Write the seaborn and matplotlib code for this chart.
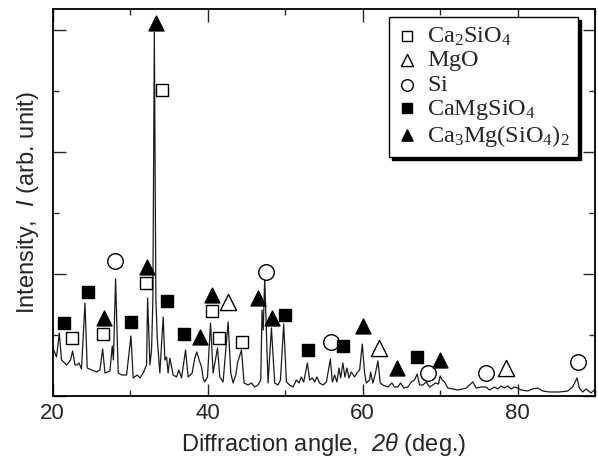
import matplotlib
matplotlib.use("Agg")
import matplotlib.pyplot as plt
import seaborn as sns
import pandas as pd
from matplotlib.ticker import MultipleLocator, NullFormatter

# ---------------- data ----------------
two_theta = [20.06, 20.52, 20.88, 21.16, 21.83, 22.32, 22.60, 22.90, 23.16, 23.42,
             23.74, 24.19, 24.48, 25.05, 25.70, 26.12, 26.47, 26.77, 27.41, 27.71,
             27.86, 28.14, 28.48, 28.92, 29.56, 30.12, 30.41, 30.93, 31.28, 31.70,
             32.14, 32.27, 32.57, 32.78, 32.95, 33.14, 33.34, 33.53, 33.85, 34.28,
             34.50, 34.72, 34.92, 35.14, 35.57, 36.01, 36.30, 36.65, 37.17, 37.50,
             38.02, 38.36, 38.62, 38.92, 39.23, 39.43, 39.65, 40.00, 40.39, 40.72,
             41.29, 41.59, 42.01, 42.66, 43.00, 43.30, 43.65, 43.87, 44.38, 44.72,
             45.23, 45.67, 46.10, 46.52, 46.87, 47.04, 47.19, 47.38, 47.81, 48.25,
             48.67, 49.10, 49.41, 49.83, 50.18, 50.61, 51.03, 51.47, 51.80, 52.11,
             52.41, 52.89, 53.18, 53.53, 53.83, 54.12, 54.47, 54.90, 55.34, 55.85,
             56.11, 56.40, 56.70, 56.96, 57.18, 57.47, 57.73, 57.99, 58.25, 58.56,
             58.98, 59.28, 59.63, 59.97, 60.27, 60.49, 60.92, 61.04, 61.34, 61.62,
             61.99, 62.29, 62.63, 63.27, 63.79, 64.14, 64.56, 64.91, 65.34, 65.85,
             66.29, 66.71, 67.06, 67.36, 67.78, 68.22, 68.65, 69.07, 69.38, 69.81,
             70.03, 70.28, 70.58, 71.01, 71.65, 72.29, 72.94, 73.38, 74.23, 74.67,
             75.31, 75.95, 76.38, 77.02, 77.45, 77.89, 78.31, 78.74, 79.18, 79.60,
             80.03, 80.46, 81.31, 81.96, 82.60, 83.25, 84.11, 85.40, 86.47, 87.11,
             87.68, 87.98, 88.40, 88.84, 89.49, 89.91]
intensity = [48, 39, 63, 36, 31, 36, 45, 31, 31, 33,
             27, 93, 28, 26, 24, 26, 47, 23, 25, 50,
             36, 117, 23, 21, 21, 60, 18, 21, 18, 23,
             31, 98, 31, 46, 96, 364, 96, 56, 23, 79,
             36, 39, 23, 38, 21, 19, 26, 18, 46, 19,
             23, 38, 44, 36, 29, 18, 14, 19, 73, 23,
             48, 19, 14, 74, 23, 13, 21, 33, 46, 13,
             11, 13, 9, 11, 16, 86, 66, 118, 13, 68,
             13, 11, 16, 72, 14, 11, 9, 16, 13, 19,
             14, 33, 16, 18, 14, 19, 13, 11, 14, 37,
             14, 21, 14, 28, 18, 33, 19, 28, 18, 24,
             19, 23, 26, 52, 23, 13, 16, 24, 13, 21,
             35, 13, 11, 9, 13, 9, 9, 13, 8, 9,
             14, 16, 22, 11, 11, 14, 9, 11, 13, 12,
             20, 16, 14, 8, 7, 6, 7, 8, 14, 8,
             9, 9, 6, 9, 7, 10, 8, 10, 7, 9,
             8, 6, 5, 7, 8, 5, 4, 4, 5, 9,
             18, 8, 4, 7, 3, 6]

ca2sio4_x = [22.55, 26.55, 32.01, 34.07, 40.52, 41.49, 44.51]
ca2sio4_y = [58, 62, 113, 306, 85, 58, 54]
mgo_x = [42.66, 62.08, 78.53]
mgo_y = [94, 48, 28]
si_x = [28.09, 47.51, 55.98, 68.43, 75.95, 87.76]
si_y = [135, 124, 54, 23, 23, 34]
camgsio4_x = [21.52, 24.54, 30.08, 34.79, 36.98, 50.05, 52.96, 57.47, 67.01]
camgsio4_y = [73, 104, 74, 95, 62, 81, 46, 50, 39]
merwinite_x = [26.64, 32.14, 33.30, 39.01, 40.52, 46.52, 48.38, 60.05, 64.48, 70.03]
merwinite_y = [78, 129, 373, 59, 101, 98, 78, 70, 28, 36]

labels = [r"$\mathrm{Ca_2SiO_4}$", r"$\mathrm{MgO}$", r"$\mathrm{Si}$",
          r"$\mathrm{CaMgSiO_4}$", r"$\mathrm{Ca_3Mg(SiO_4)_2}$"]

x_label = r"Diffraction angle,  $\mathsf{2}\mathit{\theta}$ (deg.)"
y_label = r"Intensity,  $\mathit{I}$ (arb. unit)"

# ---------------- style ----------------
sns.set_style("ticks")
plt.rcParams["font.family"] = ["Liberation Sans", "DejaVu Sans"]
plt.rcParams["mathtext.fontset"] = "custom"
plt.rcParams["mathtext.rm"] = "Liberation Serif"
plt.rcParams["mathtext.it"] = "Liberation Sans:italic"
plt.rcParams["mathtext.sf"] = "Liberation Sans:italic"
plt.rcParams["mathtext.bf"] = "Liberation Serif:bold"

fig = plt.figure(figsize=(5.98, 4.57), dpi=100)
ax = fig.add_axes([0.0878, 0.1335, 0.9072, 0.8468])

curve = pd.DataFrame({"two_theta": two_theta, "intensity": intensity})
sns.lineplot(data=curve, x="two_theta", y="intensity", ax=ax, color="#1a1a1a",
             linewidth=0.9, estimator=None, sort=False, zorder=2)

series = [
    (ca2sio4_x, ca2sio4_y, "s", 78, "white"),
    (mgo_x, mgo_y, "^", 135, "white"),
    (si_x, si_y, "o", 125, "white"),
    (camgsio4_x, camgsio4_y, "s", 78, "black"),
    (merwinite_x, merwinite_y, "^", 115, "black"),
]
for (xs, ys, mk, size, fc), lab in zip(series, labels):
    sns.scatterplot(x=xs, y=ys, marker=mk, s=size, color=fc, edgecolor="black",
                    linewidth=1.0, label=lab, ax=ax, zorder=3)

ax.set_xlim(20, 90)
ax.set_ylim(0, 387)
ax.xaxis.set_major_locator(MultipleLocator(20))
ax.xaxis.set_minor_locator(MultipleLocator(10))
ax.yaxis.set_major_locator(MultipleLocator(122))
ax.yaxis.set_minor_locator(MultipleLocator(61))
ax.yaxis.set_major_formatter(NullFormatter())

ax.tick_params(which="both", direction="in", top=True, right=True, width=1.0)
ax.tick_params(which="major", length=9, labelsize=16, pad=5)
ax.tick_params(which="minor", length=4.5)
for sp in ax.spines.values():
    sp.set_linewidth(1.3)
    sp.set_color("black")

ax.set_xlabel(x_label, fontsize=17, labelpad=5)
ax.set_ylabel(y_label, fontsize=17, labelpad=3)

leg = ax.legend(loc="upper right", bbox_to_anchor=(0.969, 0.979), borderaxespad=0,
                frameon=True, fancybox=False, edgecolor="black", framealpha=1,
                shadow={"color": "black", "alpha": 1},
                prop={"family": "Liberation Serif", "size": 17.5},
                markerscale=0.75, handletextpad=0.4, labelspacing=0.05,
                borderpad=0.35, handlelength=0.8)
leg.get_frame().set_linewidth(1.0)

fig.savefig("out.png", dpi=100)
